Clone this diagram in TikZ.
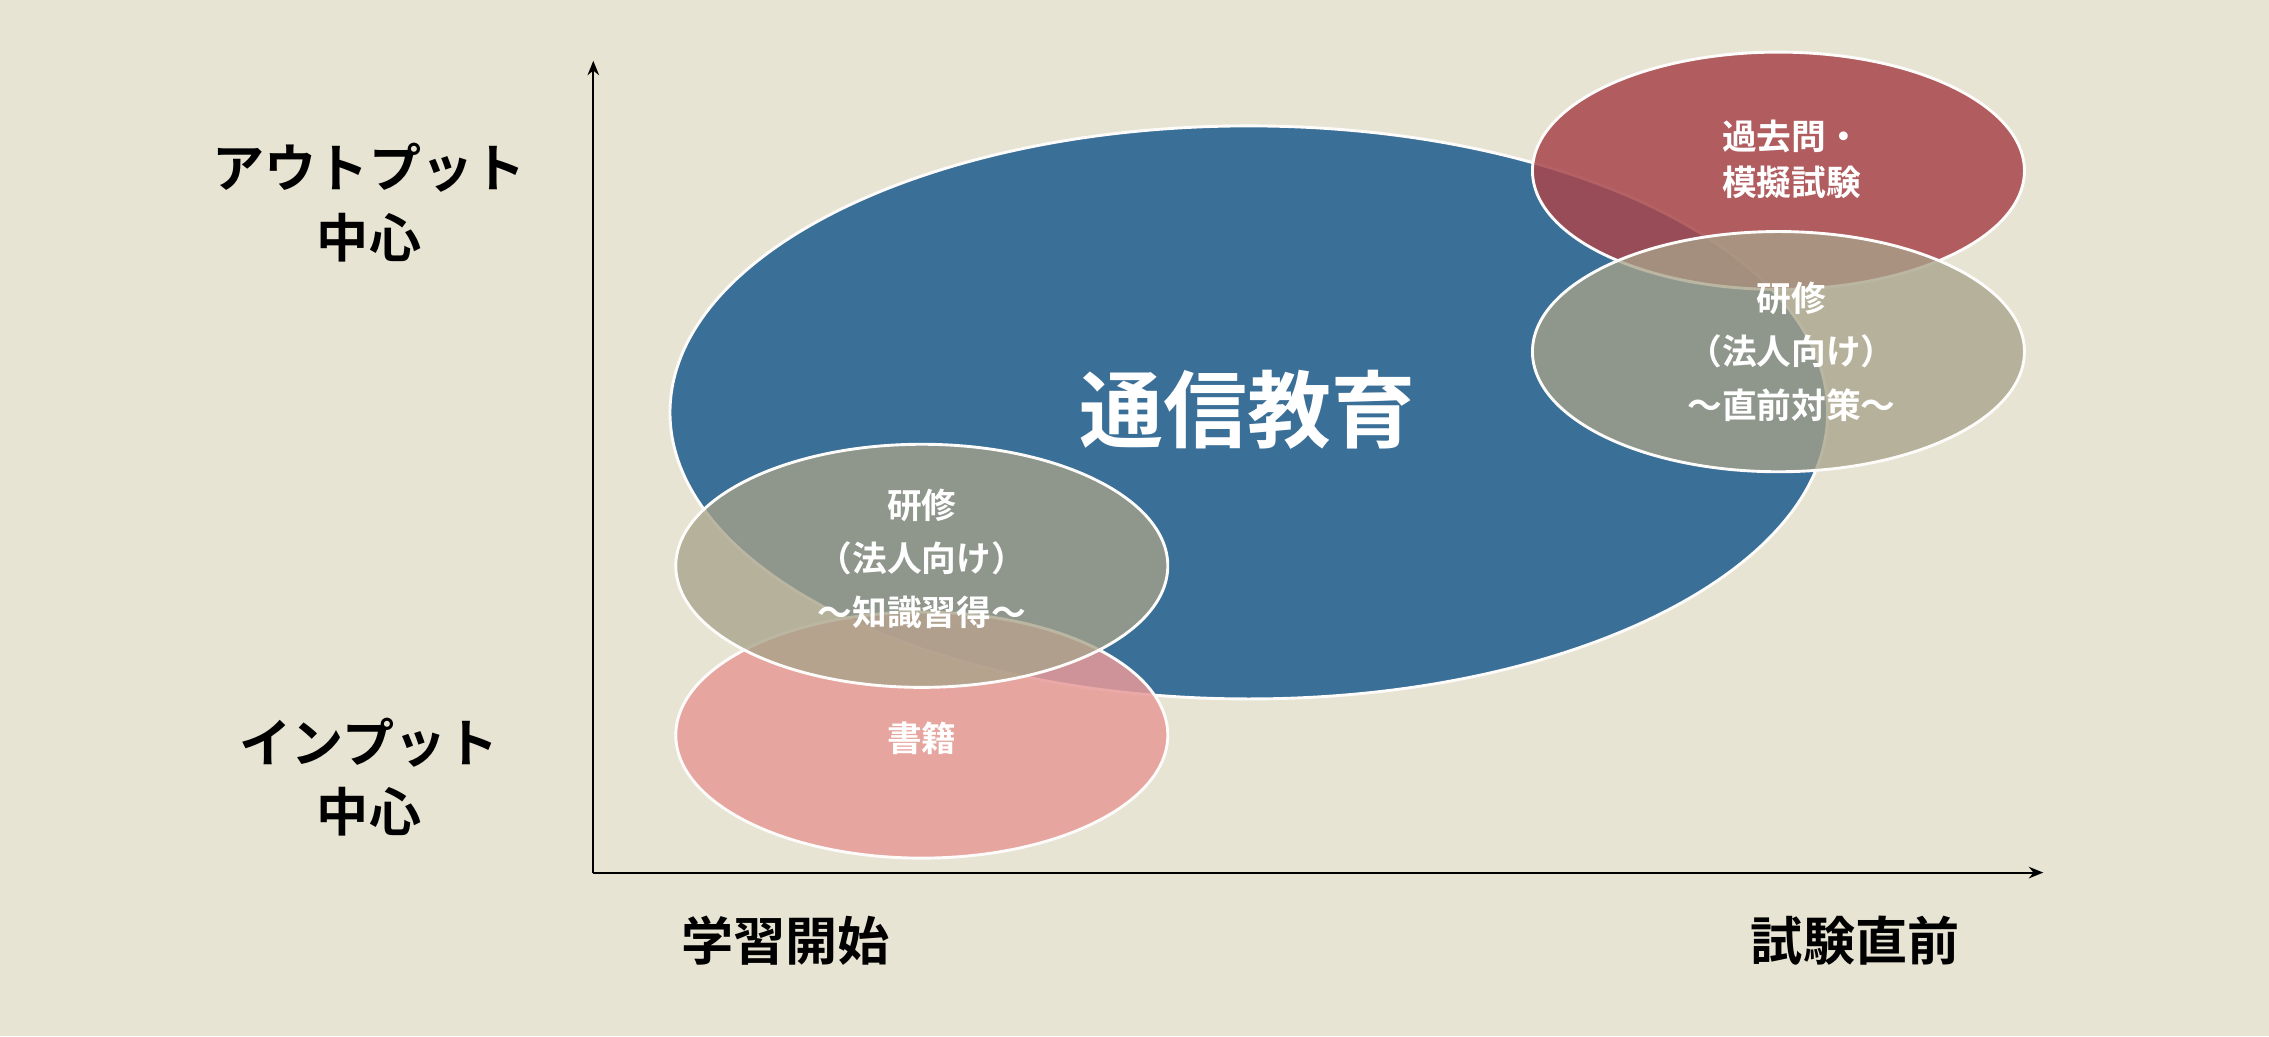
\documentclass[tikz,border=0pt]{standalone}
\usepackage{fontspec}
\setmainfont{Noto Sans CJK JP}[BoldFont={* Bold}]
\newfontfamily\jpb{Noto Sans CJK JP Bold}
\usetikzlibrary{arrows.meta}
\definecolor{bg}{HTML}{E8E4D3}
\definecolor{blueE}{HTML}{3A6F98}
\definecolor{redE}{HTML}{A8464C}
\definecolor{pinkE}{HTML}{E79A98}
\definecolor{grayE}{HTML}{A8A38A}
\tikzset{
  ell/.style={draw=white!90!bg,line width=2pt},
  lab/.style={text=white,font=\jpb\fontsize{24}{32}\selectfont,align=center},
  axlab/.style={text=black,font=\jpb\fontsize{36}{48}\selectfont,align=center},
}
\begin{document}
\begin{tikzpicture}[x=1pt,y=-1pt]
\fill[bg] (0,0) rectangle (1568,716);
\useasboundingbox (0,0) rectangle (1568,716);
\coordinate (o) at (410,603);
\coordinate (ytop) at (410,42);
\coordinate (xend) at (1412,603);
\draw[line width=1.3pt,-{Stealth[length=10pt,width=8pt]}] (o) -- (ytop);
\draw[line width=1.3pt,-{Stealth[length=10pt,width=8pt]}] (o) -- (xend);
% ellipses
\draw[ell,fill=blueE] (863,285) ellipse [x radius=400,y radius=198];
\draw[ell,fill=pinkE,fill opacity=0.85] (637,508) ellipse [x radius=170,y radius=85];
\draw[ell,fill=redE,fill opacity=0.85] (1229,118) ellipse [x radius=170,y radius=82];
\draw[ell,fill=grayE,fill opacity=0.78] (1229,243) ellipse [x radius=170,y radius=83];
\draw[ell,fill=grayE,fill opacity=0.78] (637,391) ellipse [x radius=170,y radius=84];
% labels
\node[lab,font=\jpb\fontsize{58}{64}\selectfont] (tsu) at (862,283) {通信教育};
\node[lab] (kako) at (1238,110) {過去問・\\模擬試験};
\node[lab,font=\jpb\fontsize{24}{37}\selectfont] (ken2) at (1238,243) {研修\\（法人向け）\\〜直前対策〜};
\node[lab,font=\jpb\fontsize{24}{37}\selectfont] (ken1) at (637,386) {研修\\（法人向け）\\〜知識習得〜};
\node[lab] (sho) at (637,510) {書籍};
\node[axlab] (out) at (255,140) {アウトプット\\中心};
\node[axlab] (inp) at (255,537) {インプット\\中心};
\node[axlab] (start) at (543,650) {学習開始};
\node[axlab] (end) at (1282,650) {試験直前};
\end{tikzpicture}
\end{document}
